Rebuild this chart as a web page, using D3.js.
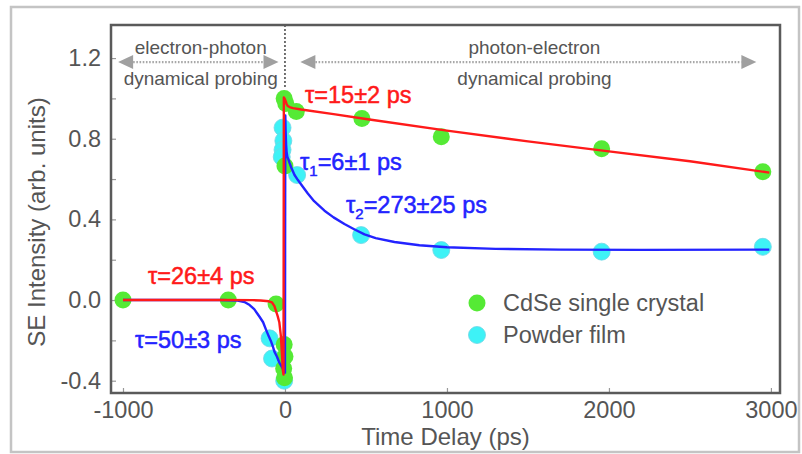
<!DOCTYPE html>
<html>
<head>
<meta charset="utf-8">
<script src="https://cdn.jsdelivr.net/npm/d3@7/dist/d3.min.js"></script>
<style>
  html, body { margin: 0; padding: 0; background: #fff; }
  svg { display: block; font-family: "Liberation Sans", Arial, Helvetica, sans-serif; }
</style>
</head>
<body>
<svg id="chart" width="802" height="454"></svg>
<script>
// ---------------- data ----------------
const xTickValues = [-1000, 0, 1000, 2000, 3000];
const xTickLabels = ["-1000", "0", "1000", "2000", "3000"];
const yTickValues = [-0.4, 0.0, 0.4, 0.8, 1.2];
const yTickLabels = ["-0.4", "0.0", "0.4", "0.8", "1.2"];
const yMinorTicks = [-0.4, -0.2, 0.0, 0.2, 0.4, 0.6, 0.8, 1.0, 1.2];

const seriesNames = ["CdSe single crystal", "Powder film"];

// CdSe single crystal (green points)
const cdseT = [-1000, -350, -55, -5, 0, -8, -3, -5, 5, 70, 0, 475, 965, 1955, 2950];
const cdseV = [0.0, 0.0, -0.02, -0.22, -0.28, -0.34, -0.385, 1.0, 0.975, 0.935, 0.665, 0.90, 0.81, 0.75, 0.636];

// Powder film (cyan points)
const powderT = [-95, -80, -5, -15, -10, -15, -20, 75, 470, 965, 1955, 2950];
const powderV = [-0.19, -0.29, -0.40, 0.855, 0.79, 0.745, 0.71, 0.62, 0.322, 0.248, 0.24, 0.264];

// fitted curves
const redFitT = [-1000, -400, -200, -150, -100, -80, -65, -55, -45, -35, -25, -18, -13, -9, -7, 0, 5, 10, 18, 28, 50, 100, 300, 500, 1000, 1500, 2000, 2500, 2990];
const redFitV = [0.0, 0.0, -0.0005, -0.002, -0.006, -0.012, -0.03, -0.055, -0.08, -0.11, -0.18, -0.28, -0.35, -0.37, 1.005, 0.995, 0.985, 0.972, 0.962, 0.957, 0.952, 0.945, 0.922, 0.898, 0.84, 0.787, 0.737, 0.688, 0.632];

const blueFitT = [-1000, -400, -300, -250, -218, -190, -157, -135, -116, -100, -85, -75, -65, -50, -35, -20, -10, 0, 2, 4, 7, 10, 15, 20, 28, 40, 59, 80, 100, 141, 180, 244, 300, 367, 430, 491, 560, 676, 830, 1000, 1300, 1700, 2200, 2990];
const blueFitV = [0.0, 0.0, -0.002, -0.01, -0.025, -0.045, -0.083, -0.11, -0.149, -0.18, -0.207, -0.23, -0.256, -0.28, -0.31, -0.33, -0.345, -0.36, 0.915, 0.84, 0.77, 0.735, 0.71, 0.70, 0.68, 0.655, 0.62, 0.595, 0.573, 0.528, 0.49, 0.443, 0.41, 0.377, 0.35, 0.326, 0.307, 0.288, 0.272, 0.262, 0.254, 0.25, 0.249, 0.25];

// ---------------- layout ----------------
const svg = d3.select("#chart");
const L = 111, R = 780, T = 25, B = 393;

const x = d3.scaleLinear().domain([-1074, 3056]).range([L, R]);
const y = d3.scaleLinear().domain([-0.461, 1.364]).range([B, T]);

const GREEN = "#55ea35", CYAN = "#3ef2f6", RED = "#ff1a1a", BLUE = "#2323ff";
const TXT = "#555";

// outer light border
svg.append("rect").attr("x", 11).attr("y", 7).attr("width", 788).attr("height", 445)
  .attr("fill", "none").attr("stroke", "#c4c4c4").attr("stroke-width", 2.5);

// ticks (inside)
const yAxis = d3.axisRight(y).tickValues(yMinorTicks).tickSize(5).tickFormat("");
const gy = svg.append("g").attr("transform", `translate(${L},0)`).call(yAxis);
gy.select(".domain").remove();
gy.selectAll(".tick line").attr("stroke", "#999").attr("stroke-width", 1.2);

const xAxis = d3.axisTop(x).tickValues(xTickValues).tickSize(5).tickFormat("");
const gx = svg.append("g").attr("transform", `translate(0,${B})`).call(xAxis);
gx.select(".domain").remove();
gx.selectAll(".tick line").attr("stroke", "#999").attr("stroke-width", 1.2);

// tick labels
const gyl = d3.axisLeft(y).tickValues(yTickValues).tickSize(0).tickPadding(10)
  .tickFormat((d, i) => yTickLabels[i]);
const gY = svg.append("g").attr("transform", `translate(${L},0)`).call(gyl);
gY.select(".domain").remove();
gY.selectAll("text").attr("font-size", 23.5).attr("fill", TXT)
  .attr("font-family", '"Liberation Sans", Arial, sans-serif');

const gxl = d3.axisBottom(x).tickValues(xTickValues).tickSize(0).tickPadding(8)
  .tickFormat((d, i) => xTickLabels[i]);
const gX = svg.append("g").attr("transform", `translate(0,${B})`).call(gxl);
gX.select(".domain").remove();
gX.selectAll("text").attr("font-size", 23.5).attr("fill", TXT)
  .attr("font-family", '"Liberation Sans", Arial, sans-serif');

// axis titles
svg.append("text").attr("x", (L + R) / 2).attr("y", 445).attr("text-anchor", "middle")
  .attr("font-size", 24).attr("fill", TXT).text("Time Delay (ps)");
svg.append("text").attr("transform", "translate(45,222) rotate(-90)").attr("text-anchor", "middle")
  .attr("font-size", 24).attr("fill", TXT).text("SE Intensity (arb. units)");

// dotted divider at t = 0
svg.append("line").attr("x1", x(0)).attr("x2", x(0)).attr("y1", y(1.364)).attr("y2", y(1.05))
  .attr("stroke", "#444").attr("stroke-width", 1.5).attr("stroke-dasharray", "2,2");

// region arrows
function arrow(t1, t2, v) {
  const g = svg.append("g");
  const x1 = x(t1), x2 = x(t2), yy = y(v);
  const hl = 15, hh = 7;
  g.append("line").attr("x1", x1 + hl).attr("x2", x2 - hl).attr("y1", yy).attr("y2", yy)
    .attr("stroke", "#a8a8a8").attr("stroke-width", 2.2).attr("stroke-dasharray", "1.6,1.6");
  g.append("path").attr("d", `M${x1},${yy}L${x1 + hl},${yy - hh}L${x1 + hl},${yy + hh}Z`).attr("fill", "#a0a0a0");
  g.append("path").attr("d", `M${x2},${yy}L${x2 - hl},${yy - hh}L${x2 - hl},${yy + hh}Z`).attr("fill", "#a0a0a0");
}
arrow(-1030, -40, 1.18);
arrow(95, 2910, 1.18);

const regionFont = 19;
svg.append("text").attr("x", x(-520)).attr("y", y(1.254) + 6.5).attr("text-anchor", "middle")
  .attr("font-size", regionFont).attr("fill", TXT).text("electron-photon");
svg.append("text").attr("x", x(-520)).attr("y", y(1.10) + 6.5).attr("text-anchor", "middle")
  .attr("font-size", regionFont).attr("fill", TXT).text("dynamical probing");
svg.append("text").attr("x", x(1540)).attr("y", y(1.254) + 6.5).attr("text-anchor", "middle")
  .attr("font-size", regionFont).attr("fill", TXT).text("photon-electron");
svg.append("text").attr("x", x(1540)).attr("y", y(1.10) + 6.5).attr("text-anchor", "middle")
  .attr("font-size", regionFont).attr("fill", TXT).text("dynamical probing");

// points
const cdse = cdseT.map((t, i) => ({ t, v: cdseV[i] }));
const powder = powderT.map((t, i) => ({ t, v: powderV[i] }));

svg.append("g").selectAll("circle").data(powder).join("circle")
  .attr("cx", d => x(d.t)).attr("cy", d => y(d.v)).attr("r", 8.5)
  .attr("fill", CYAN).attr("stroke", "#6fd6e6").attr("stroke-width", 0.8);
svg.append("g").selectAll("circle").data(cdse).join("circle")
  .attr("cx", d => x(d.t)).attr("cy", d => y(d.v)).attr("r", 8.5)
  .attr("fill", GREEN);

// fit lines
const line = d3.line().x(d => x(d.t)).y(d => y(d.v));
const blueFit = blueFitT.map((t, i) => ({ t, v: blueFitV[i] }));
const redFit = redFitT.map((t, i) => ({ t, v: redFitV[i] }));
svg.append("path").datum(blueFit).attr("d", line).attr("fill", "none")
  .attr("stroke", BLUE).attr("stroke-width", 2.4).attr("stroke-linejoin", "round");
svg.append("path").datum(redFit).attr("d", line).attr("fill", "none")
  .attr("stroke", RED).attr("stroke-width", 2.4).attr("stroke-linejoin", "round");

// frame
svg.append("rect").attr("x", L).attr("y", T).attr("width", R - L).attr("height", B - T)
  .attr("fill", "none").attr("stroke", "#5a5a5a").attr("stroke-width", 2.5);

// annotations
function tauLabel(px, py, color, sub, rest) {
  const t = svg.append("text").attr("x", px).attr("y", py).attr("font-size", 23.5)
    .attr("fill", color).attr("stroke", color).attr("stroke-width", 0.5);
  t.append("tspan").text("τ");
  if (sub) {
    t.append("tspan").attr("font-size", 15).attr("dy", 6).text(sub);
    t.append("tspan").attr("dy", -6).text(rest);
  } else {
    t.append("tspan").text(rest);
  }
}
tauLabel(305, 103, RED, null, "=15±2 ps");
tauLabel(300, 170, BLUE, "1", "=6±1 ps");
tauLabel(346, 213, BLUE, "2", "=273±25 ps");
tauLabel(148, 284, RED, null, "=26±4 ps");
tauLabel(135, 348, BLUE, null, "=50±3 ps");

// legend
const legend = svg.append("g");
const legColors = [GREEN, CYAN];
const legY = [303, 335];
seriesNames.forEach((name, i) => {
  legend.append("circle").attr("cx", 477).attr("cy", legY[i]).attr("r", 8.5).attr("fill", legColors[i])
    .attr("stroke", i === 1 ? "#6fd6e6" : "none").attr("stroke-width", 0.8);
  legend.append("text").attr("x", 503).attr("y", legY[i] + 8.3).attr("font-size", 23.5)
    .attr("fill", TXT).text(name);
});
</script>
</body>
</html>
